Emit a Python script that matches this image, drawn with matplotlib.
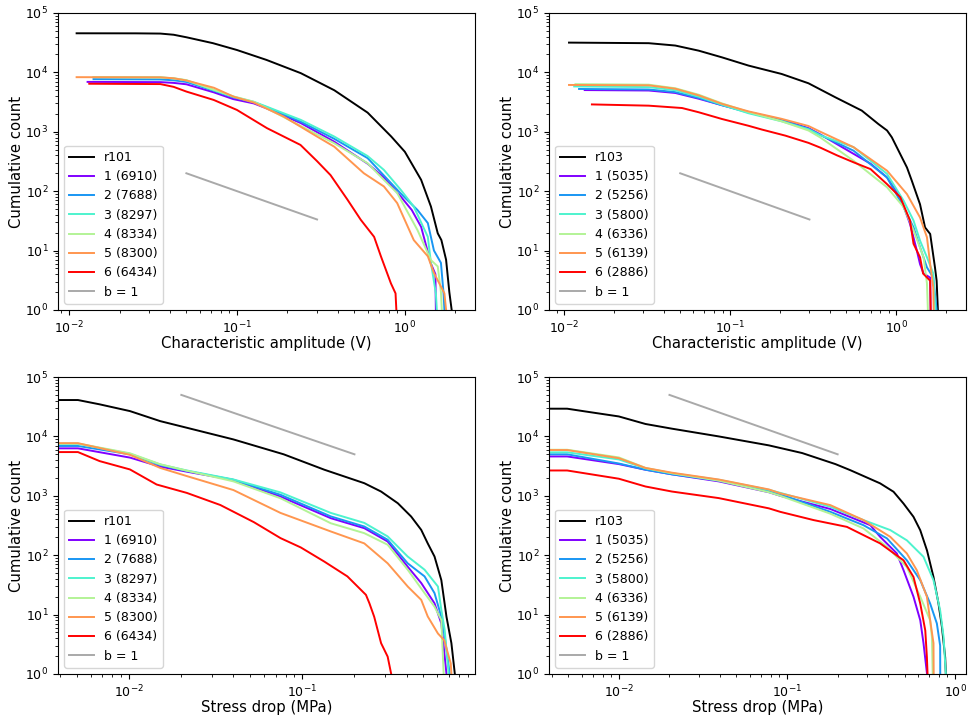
import matplotlib
matplotlib.use("Agg")
import matplotlib.pyplot as plt
import numpy as np

labels_101 = ["r101", "1 (6910)", "2 (7688)", "3 (8297)", "4 (8334)", "5 (8300)", "6 (6434)"]
labels_103 = ["r103", "1 (5035)", "2 (5256)", "3 (5800)", "4 (6336)", "5 (6139)", "6 (2886)"]

# characteristic amplitude, r101 (total, then groups 1..6)
amp101_x = [
    [0.0111, 0.025, 0.035, 0.042, 0.05, 0.072, 0.1, 0.15, 0.24, 0.38, 0.6, 0.83, 1.0, 1.25, 1.43, 1.57, 1.65, 1.76, 1.84, 1.9],
    [0.0129, 0.035, 0.042, 0.05, 0.073, 0.095, 0.126, 0.15, 0.24, 0.38, 0.6, 0.75, 0.946, 1.1, 1.25, 1.43, 1.52, 1.53],
    [0.014, 0.035, 0.042, 0.05, 0.073, 0.095, 0.126, 0.15, 0.24, 0.38, 0.6, 0.946, 1.19, 1.37, 1.49, 1.64, 1.70, 1.72],
    [0.014, 0.035, 0.042, 0.05, 0.073, 0.095, 0.126, 0.15, 0.24, 0.38, 0.6, 0.75, 0.946, 1.13, 1.37, 1.43, 1.53, 1.55],
    [0.014, 0.035, 0.042, 0.05, 0.073, 0.095, 0.126, 0.15, 0.24, 0.38, 0.6, 0.75, 0.90, 1.19, 1.43, 1.57, 1.64, 1.66],
    [0.0111, 0.035, 0.042, 0.05, 0.073, 0.0957, 0.126, 0.19, 0.30, 0.38, 0.57, 0.75, 0.90, 1.13, 1.37, 1.49, 1.72, 1.76],
    [0.0132, 0.035, 0.042, 0.05, 0.0728, 0.1, 0.151, 0.239, 0.30, 0.361, 0.455, 0.546, 0.656, 0.72, 0.826, 0.88, 0.89],
]
amp101_y = [
    [45500, 45400, 45000, 43000, 39000, 31000, 23800, 16200, 9700, 5000, 2100, 830, 460, 155, 55, 19.5, 15, 7, 2, 1],
    [6910, 6850, 6650, 6300, 4600, 3550, 3000, 2480, 1400, 680, 290, 170, 81, 48, 25, 6, 4, 1],
    [7688, 7600, 7350, 6900, 4900, 3800, 3150, 2600, 1480, 760, 360, 91, 48, 29, 10, 6.2, 1.9, 1],
    [8297, 8200, 7900, 7300, 5000, 3900, 3200, 2650, 1585, 830, 390, 228, 105, 55, 17, 6.2, 1.9, 1],
    [8334, 8250, 7950, 7400, 5100, 3950, 3200, 2500, 1250, 640, 295, 155, 93, 22, 6.9, 5.4, 2, 1],
    [8300, 8250, 7950, 7300, 5500, 3890, 3100, 1800, 830, 560, 200, 120, 63, 15, 8, 4.2, 1.9, 1],
    [6434, 6350, 5700, 4750, 3430, 2330, 1150, 600, 320, 186, 72, 33, 17, 8, 2.8, 1.9, 1],
]

# characteristic amplitude, r103
amp103_x = [
    [0.0107, 0.0323, 0.0467, 0.0646, 0.0892, 0.129, 0.204, 0.296, 0.43, 0.62, 0.78, 0.88, 0.94, 1.08, 1.16, 1.24, 1.39, 1.49, 1.60, 1.71, 1.75, 1.78],
    [0.0133, 0.0323, 0.0467, 0.0646, 0.0892, 0.129, 0.204, 0.296, 0.349, 0.553, 0.70, 0.88, 1.057, 1.21, 1.33, 1.39, 1.46, 1.60, 1.61],
    [0.0123, 0.0323, 0.0467, 0.0646, 0.0892, 0.129, 0.204, 0.296, 0.349, 0.553, 0.88, 1.107, 1.27, 1.39, 1.53, 1.67, 1.75],
    [0.0115, 0.0323, 0.0467, 0.0646, 0.0892, 0.129, 0.204, 0.296, 0.349, 0.553, 0.70, 0.88, 1.107, 1.27, 1.39, 1.53, 1.67, 1.72],
    [0.0117, 0.0323, 0.0467, 0.0646, 0.0892, 0.129, 0.204, 0.296, 0.349, 0.553, 0.88, 1.107, 1.27, 1.46, 1.53, 1.55],
    [0.0107, 0.0323, 0.0467, 0.0646, 0.0892, 0.129, 0.204, 0.296, 0.349, 0.553, 0.88, 1.16, 1.39, 1.53, 1.60, 1.67, 1.68],
    [0.0147, 0.0323, 0.0513, 0.0646, 0.0892, 0.129, 0.155, 0.215, 0.296, 0.349, 0.44, 0.553, 0.70, 0.88, 1.057, 1.21, 1.27, 1.39, 1.45, 1.60, 1.61],
]
amp103_y = [
    [31700, 31000, 28300, 23200, 17900, 13000, 9400, 6550, 3800, 2270, 1350, 1050, 807, 372, 250, 150, 60, 24.5, 19, 5.2, 3.1, 1],
    [5035, 4950, 4500, 3600, 2800, 2150, 1600, 1150, 900, 425, 290, 170, 79, 28, 10, 5.9, 4.1, 3.5, 1],
    [5256, 5150, 4650, 3700, 2800, 2100, 1550, 1120, 880, 480, 170, 54, 24.5, 11.4, 5.2, 3.5, 1],
    [5800, 5650, 5000, 3900, 2850, 2050, 1500, 1100, 870, 550, 325, 195, 69, 32, 14.7, 7.7, 4.1, 1],
    [6336, 6200, 5400, 4200, 3000, 2150, 1500, 1050, 800, 325, 116, 54, 22, 7.7, 2.8, 1],
    [6139, 6050, 5300, 4100, 2950, 2200, 1650, 1250, 1000, 550, 221, 89, 36, 16.7, 5.9, 2.4, 1],
    [2886, 2750, 2510, 2130, 1640, 1260, 1090, 860, 650, 540, 400, 306, 235, 131, 79, 32, 13, 7.7, 4.1, 3.1, 1],
]

# stress drop, r101
sd101_x = [
    [0.0039, 0.00506, 0.00675, 0.0101, 0.0151, 0.0215, 0.040, 0.078, 0.134, 0.228, 0.285, 0.356, 0.425, 0.486, 0.53, 0.58, 0.635, 0.68, 0.726, 0.76],
    [0.0039, 0.00506, 0.0101, 0.0151, 0.0215, 0.04, 0.0748, 0.146, 0.228, 0.311, 0.406, 0.486, 0.58, 0.635, 0.68],
    [0.0039, 0.00506, 0.0101, 0.0151, 0.0215, 0.04, 0.0748, 0.146, 0.228, 0.311, 0.406, 0.508, 0.58, 0.635, 0.664, 0.71],
    [0.0039, 0.00506, 0.0101, 0.0151, 0.0215, 0.04, 0.0748, 0.146, 0.228, 0.311, 0.406, 0.508, 0.607, 0.635, 0.664, 0.70],
    [0.0039, 0.00506, 0.0101, 0.0151, 0.0215, 0.04, 0.0748, 0.146, 0.228, 0.311, 0.406, 0.508, 0.58, 0.635, 0.655],
    [0.0039, 0.00506, 0.0101, 0.0151, 0.0215, 0.04, 0.0748, 0.146, 0.228, 0.311, 0.407, 0.486, 0.53, 0.607, 0.66, 0.72, 0.726],
    [0.0039, 0.00506, 0.00675, 0.0101, 0.0144, 0.0215, 0.0336, 0.0525, 0.0748, 0.098, 0.134, 0.182, 0.233, 0.244, 0.26, 0.285, 0.311, 0.326],
]
sd101_y = [
    [41000, 41000, 34700, 26700, 18100, 14000, 8900, 5000, 2750, 1630, 1180, 750, 448, 267, 158, 95, 38, 9.2, 3.3, 1],
    [6300, 6300, 4400, 3100, 2550, 1850, 970, 420, 285, 170, 64, 34, 15.5, 7.1, 1],
    [6900, 6900, 5000, 3300, 2620, 1860, 1040, 450, 304, 182, 73, 44, 23, 9.2, 4.3, 1],
    [7500, 7500, 5100, 3370, 2670, 1885, 1140, 515, 350, 207, 95, 57, 29.7, 12, 5.5, 1],
    [7600, 7600, 5200, 3400, 2650, 1750, 910, 345, 235, 150, 57, 23, 13.6, 8.1, 1],
    [7700, 7700, 4900, 2950, 2150, 1250, 515, 251, 158, 73, 29.5, 17.7, 9.3, 4.8, 3.7, 1.5, 1],
    [5450, 5450, 3840, 2780, 1550, 1120, 700, 360, 194, 135, 78, 44, 21.5, 15.5, 9.2, 3.3, 1.96, 1],
]

# stress drop, r103
sd103_x = [
    [0.00384, 0.00493, 0.00634, 0.01, 0.0144, 0.0207, 0.0393, 0.078, 0.123, 0.194, 0.238, 0.358, 0.43, 0.493, 0.565, 0.62, 0.68, 0.743, 0.796, 0.834, 0.872, 0.88],
    [0.00384, 0.00493, 0.01, 0.0144, 0.0207, 0.0393, 0.078, 0.0912, 0.181, 0.313, 0.358, 0.45, 0.493, 0.565, 0.62, 0.648, 0.68],
    [0.00384, 0.00493, 0.01, 0.0144, 0.0207, 0.0393, 0.078, 0.0912, 0.181, 0.285, 0.393, 0.516, 0.62, 0.71, 0.778, 0.814, 0.815],
    [0.00384, 0.00493, 0.01, 0.0144, 0.0207, 0.0393, 0.078, 0.0912, 0.181, 0.285, 0.411, 0.516, 0.648, 0.743, 0.814, 0.853, 0.88],
    [0.00384, 0.00493, 0.01, 0.0144, 0.0207, 0.0393, 0.078, 0.0912, 0.181, 0.285, 0.393, 0.516, 0.62, 0.71, 0.727, 0.735],
    [0.00384, 0.00493, 0.01, 0.0144, 0.0207, 0.0393, 0.078, 0.0912, 0.181, 0.285, 0.411, 0.516, 0.591, 0.679, 0.71, 0.743, 0.745],
    [0.00384, 0.00493, 0.01, 0.0144, 0.0207, 0.0393, 0.078, 0.0912, 0.144, 0.227, 0.358, 0.493, 0.565, 0.62, 0.664, 0.679, 0.685],
]
sd103_y = [
    [29300, 29300, 26300, 21700, 16200, 13500, 10000, 7070, 5250, 3420, 2700, 1620, 1170, 740, 443, 263, 120, 43, 15.3, 6.2, 1.9, 1],
    [4600, 4600, 3420, 2750, 2300, 1750, 1150, 1000, 600, 320, 204, 107, 56, 20, 8, 3.3, 1],
    [5000, 5000, 3500, 2750, 2300, 1800, 1200, 1060, 537, 320, 192, 82, 38, 15.3, 7.1, 3.0, 1],
    [5400, 5400, 4100, 2900, 2400, 1860, 1260, 1120, 653, 390, 265, 178, 94, 38, 11.8, 4.2, 1],
    [5960, 5960, 4430, 2950, 2400, 1800, 1150, 1000, 500, 282, 138, 63, 20, 8, 4.2, 1],
    [5900, 5900, 4300, 2950, 2450, 1880, 1280, 1100, 697, 390, 204, 107, 56, 20, 8, 3.3, 1],
    [2670, 2670, 1940, 1435, 1180, 915, 615, 537, 390, 300, 158, 82, 43, 15.3, 5.4, 1.9, 1],
]

# b = 1 reference lines: y = c / x
bline_amp_x = [0.05, 0.3]
bline_amp_c = 10.0
bline_sd_x = [0.02, 0.2]
bline_sd_c = 1000.0

colors = ["black"] + [plt.cm.rainbow(v) for v in np.linspace(0, 1, 6)]


def draw_panel(ax, xs, ys, labels, bx, bc, xlabel, xlim):
    for x, y, c, lab in zip(xs, ys, colors, labels):
        ax.plot(x, y, color=c, lw=1.4, label=lab)
    bx = np.array(bx)
    ax.plot(bx, bc / bx, color="darkgray", lw=1.4, label="b = 1")
    ax.set_xscale("log")
    ax.set_yscale("log")
    ax.set_xlim(xlim)
    ax.set_ylim(1, 1e5)
    ax.tick_params(labelsize=9)
    ax.set_xlabel(xlabel, fontsize=10.7, labelpad=0)
    ax.set_ylabel("Cumulative count", fontsize=10.7, labelpad=1)
    ax.legend(loc="lower left", fontsize=9)


fig, axes = plt.subplots(2, 2, figsize=(9.7, 7.17), dpi=100)
fig.subplots_adjust(left=0.0598, right=0.9959, top=0.9819, bottom=0.0600,
                    wspace=0.177, hspace=0.226)

draw_panel(axes[0, 0], amp101_x, amp101_y, labels_101, bline_amp_x, bline_amp_c,
           "Characteristic amplitude (V)", (0.0086, 2.62))
draw_panel(axes[0, 1], amp103_x, amp103_y, labels_103, bline_amp_x, bline_amp_c,
           "Characteristic amplitude (V)", (0.0081, 2.63))
draw_panel(axes[1, 0], sd101_x, sd101_y, labels_101, bline_sd_x, bline_sd_c,
           "Stress drop (MPa)", (0.00388, 0.995))
draw_panel(axes[1, 1], sd103_x, sd103_y, labels_103, bline_sd_x, bline_sd_c,
           "Stress drop (MPa)", (0.00384, 1.16))

fig.savefig("out.png", dpi=100)
